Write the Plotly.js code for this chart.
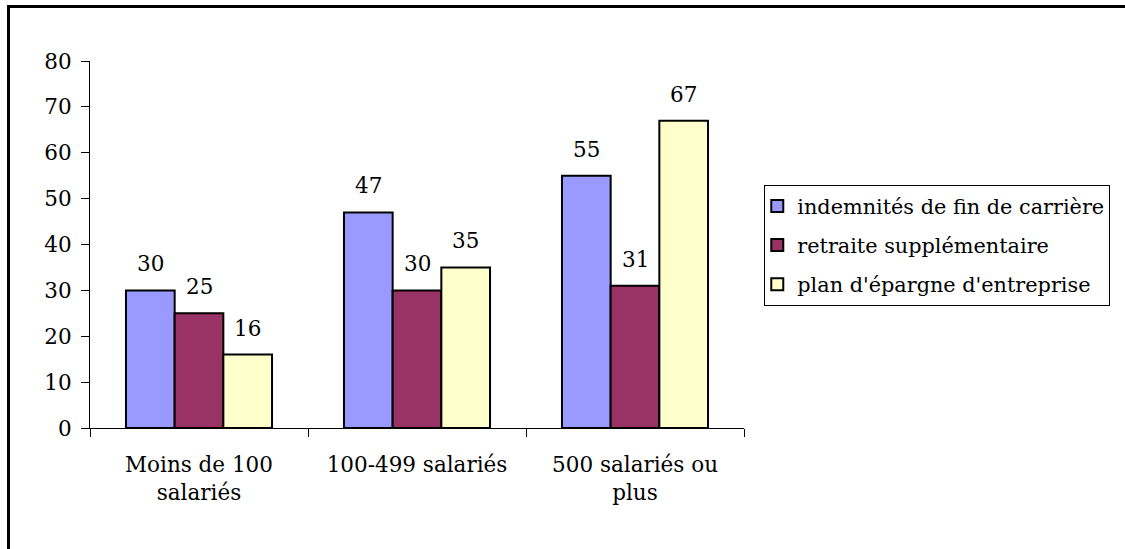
<!DOCTYPE html>
<html>
<head>
<meta charset="utf-8">
<script src="https://cdn.plot.ly/plotly-3.0.1.min.js"></script>
<style>
  html, body { margin: 0; padding: 0; background: #fff; }
  #wrap { position: relative; width: 1125px; height: 549px; overflow: hidden; }
  #chart { position: absolute; left: 0; top: 0; width: 1125px; height: 549px; }
  #frame { position: absolute; left: 7px; top: 5px; width: 1200px; height: 600px;
           border-top: 3px solid #000; border-left: 3px solid #000; pointer-events: none; }
</style>
</head>
<body>
<div id="wrap">
  <div id="chart"></div>
  <div id="frame"></div>
</div>
<script>
// Company size categories and share (%) of firms offering each scheme
const categories = ['Moins de 100<br>salariés', '100-499 salariés', '500 salariés ou<br>plus'];
const seriesNames = ['indemnités de fin de carrière', 'retraite supplémentaire', "plan d'épargne d'entreprise"];
const indemnites = [30, 47, 55];
const retraite = [25, 30, 31];
const epargne = [16, 35, 67];
const yTicks = [0, 10, 20, 30, 40, 50, 60, 70, 80];

const colors = ['#9999FF', '#993366', '#FFFFCC'];
const seriesValues = [indemnites, retraite, epargne];
const FONT = 'DejaVu Serif';
const FS = 21.5;
const FS_LEGEND = 20.8;
const BARGAP = 0.33;

const traces = seriesValues.map((vals, i) => ({
  type: 'bar',
  name: seriesNames[i],
  legendgroup: 'g' + i,
  x: categories,
  y: vals,
  marker: { color: colors[i], line: { color: '#000', width: 2 } },
  hoverinfo: 'x+y+name'
}));

// Value labels above each bar, offset to the bar centre within its group
const barW = (1 - BARGAP) / seriesValues.length;
const annotations = [];
seriesValues.forEach((vals, i) => {
  vals.forEach((v, j) => {
    annotations.push({
      x: j + (i - 1) * barW,
      y: v,
      xref: 'x', yref: 'y',
      text: String(v),
      showarrow: false,
      yanchor: 'bottom',
      yshift: 12,
      font: { family: FONT, size: FS, color: '#000' }
    });
  });
});

const layout = {
  width: 1125,
  height: 549,
  margin: { l: 90, r: 381, t: 61, b: 121, autoexpand: false },
  paper_bgcolor: 'rgba(0,0,0,0)',
  plot_bgcolor: '#fff',
  barmode: 'group',
  bargap: BARGAP,
  bargroupgap: 0,
  font: { family: FONT, size: FS, color: '#000' },
  showlegend: true,
  legend: {
    x: 1.031, xanchor: 'left',
    y: 0.662, yanchor: 'top',
    bordercolor: '#000',
    borderwidth: 1,
    bgcolor: '#fff',
    font: { family: FONT, size: FS_LEGEND, color: '#000' },
    itemwidth: 30,
    indentation: -8,
    tracegroupgap: 9
  },
  xaxis: {
    type: 'category',
    tickson: 'boundaries',
    ticks: 'outside',
    ticklen: 8,
    tickcolor: '#000',
    tickwidth: 1,
    showline: true,
    linecolor: '#000',
    linewidth: 1,
    showgrid: false,
    zeroline: false,
    ticklabelstandoff: 17,
    tickfont: { family: FONT, size: FS, color: '#000' },
    fixedrange: true
  },
  yaxis: {
    range: [0, 80],
    tickvals: yTicks,
    ticktext: yTicks.map(String),
    ticks: 'outside',
    ticklen: 8,
    tickcolor: '#000',
    tickwidth: 1,
    showline: true,
    linecolor: '#000',
    linewidth: 1,
    showgrid: false,
    zeroline: false,
    ticklabelstandoff: 5,
    tickfont: { family: FONT, size: FS, color: '#000' },
    fixedrange: true
  },
  annotations: annotations
};

Plotly.newPlot('chart', traces, layout, { displayModeBar: false, staticPlot: true });
</script>
</body>
</html>
